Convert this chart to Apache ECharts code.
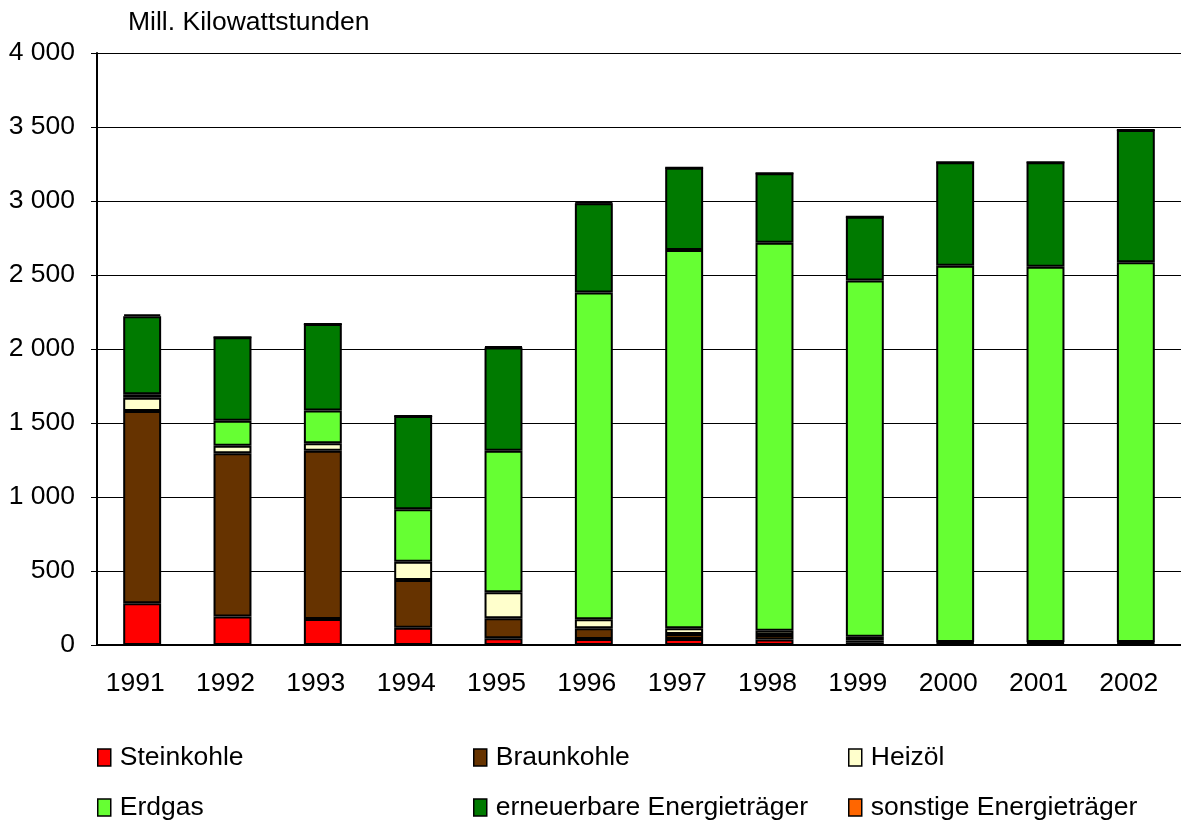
<!DOCTYPE html>
<html>
<head>
<meta charset="utf-8">
<script src="https://cdn.jsdelivr.net/npm/echarts@6/dist/echarts.min.js"></script>
<style>
html,body{margin:0;padding:0;background:#fff;}
#c{width:1181px;height:825px;}
</style>
</head>
<body>
<div id="c"></div>
<script>
var years = ['1991','1992','1993','1994','1995','1996','1997','1998','1999','2000','2001','2002'];
var steinkohle = [282, 192, 176, 117, 45, 41, 40, 38, 15, 10, 10, 10];
var braunkohle = [1299, 1103, 1137, 322, 135, 72, 35, 30, 15, 5, 5, 5];
var heizoel = [90, 52, 50, 124, 176, 61, 38, 29, 25, 5, 5, 5];
var erdgas = [23, 168, 221, 354, 957, 2207, 2556, 2621, 2407, 2543, 2536, 2566];
var erneuerbare = [528, 564, 585, 630, 697, 604, 556, 469, 432, 698, 705, 894];
var sonstige = [12, 0, 0, 0, 6, 5, 0, 0, 0, 0, 0, 0];
var seriesNames = ['Steinkohle','Braunkohle','Heizöl','Erdgas','erneuerbare Energieträger','sonstige Energieträger'];
var colors = ['#FF0000','#663300','#FFFFCC','#66FF33','#007A00','#FF6600'];

var font = 'Liberation Sans, Arial, sans-serif';
var fs = 26.5;
var chart = echarts.init(document.getElementById('c'));
var dataSets = [steinkohle, braunkohle, heizoel, erdgas, erneuerbare, sonstige];
var series = dataSets.map(function(d, i){
  return {
    name: seriesNames[i], type: 'bar', stack: 'total', data: d,
    barWidth: '42%',
    itemStyle: {color: colors[i], borderColor: '#000', borderWidth: 2},
    emphasis: {disabled: true}
  };
});
var legendPos = [[97,744],[473,744],[848,744],[97,794],[473,794],[848,794]];
var legends = seriesNames.map(function(n, i){
  return {
    data: [n], left: legendPos[i][0], top: legendPos[i][1],
    itemWidth: 13, itemHeight: 17, itemGap: 0,
    icon: 'rect', selectedMode: false,
    itemStyle: {borderColor: '#000', borderWidth: 1.5},
    textStyle: {fontSize: fs, color: '#000', fontFamily: font, padding: [0,0,0,4]},
    padding: 0
  };
});
chart.setOption({
  animation: false,
  backgroundColor: '#fff',
  title: {text: 'Mill. Kilowattstunden', left: 123, top: 4,
    textStyle: {fontSize: fs, fontWeight: 'normal', color: '#000', fontFamily: font}},
  legend: legends,
  grid: {left: 97, right: 0, top: 53, bottom: 180, containLabel: false},
  xAxis: {
    type: 'category', data: years,
    axisLine: {lineStyle: {color: '#000', width: 2}},
    axisTick: {show: false},
    axisLabel: {fontSize: fs, color: '#000', fontFamily: font, margin: 25, padding: [0, 14, 0, 0]}
  },
  yAxis: {
    type: 'value', min: 0, max: 4000, interval: 500,
    axisLine: {show: true, lineStyle: {color: '#000', width: 2}},
    axisTick: {show: true, length: 6, lineStyle: {color: '#000', width: 1}},
    splitLine: {lineStyle: {color: '#000', width: 1}},
    axisLabel: {fontSize: fs, color: '#000', fontFamily: font, margin: 22,
      formatter: function(v){ return String(v).replace(/\B(?=(\d{3})+(?!\d))/g, ' '); }}
  },
  series: series
});
</script>
</body>
</html>
